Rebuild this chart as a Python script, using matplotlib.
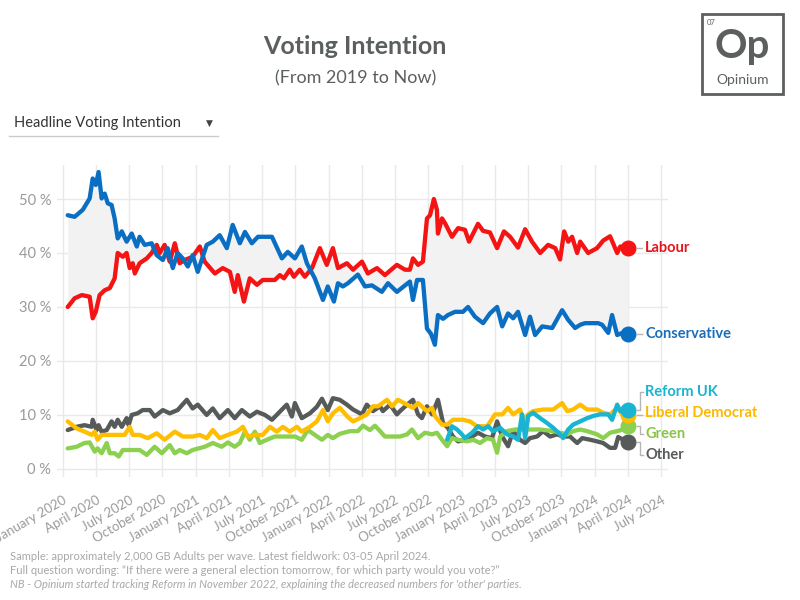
import matplotlib
matplotlib.use("Agg")
import matplotlib.pyplot as plt
import matplotlib.dates as mdates
from matplotlib.lines import Line2D
from matplotlib.patches import Rectangle
from matplotlib.transforms import IdentityTransform
import numpy as np
import pandas as pd

# Poll readings: weeks after 1 Jan 2020 (fieldwork) and vote share in %
lab_weeks = [2.0, 4.7, 7.5, 10.6, 11.8, 13.0, 14.5, 16.5, 18.5, 20.4, 21.6, 23.6, 25.1, 26.3, 27.5,
             28.3, 30.2, 33.0, 34.9, 36.9, 38.1, 40.0, 42.0, 44.0, 45.9, 47.9, 51.0, 53.8, 55.7, 59.7,
             62.8, 65.6, 67.5, 68.7, 71.1, 73.4, 76.2, 78.5, 83.2, 85.2, 86.8, 89.1, 90.7, 93.0, 95.0,
             97.8, 100.9, 103.6, 106.0, 108.0, 111.5, 113.9, 117.4, 119.7, 123.3, 126.4, 131.1, 134.3,
             136.2, 137.4, 139.4, 141.3, 142.9, 144.1, 145.6, 146.8, 147.2, 148.8, 150.0, 152.7, 155.1,
             157.8, 159.4, 162.9, 164.9, 167.6, 170.4, 173.1, 175.5, 178.6, 181.4, 184.1, 187.3, 190.4,
             193.2, 195.1, 196.7, 198.3, 199.8, 201.8, 203.0, 206.1, 209.6, 212.0, 214.7, 217.5, 218.7,
             221.8]
labour = [30, 31.6, 32.2, 31.9, 27.9, 29.1, 32.2, 33.1, 33.5, 35.3, 40, 39.3, 40, 37.2, 38.1,
          36.2, 38.1, 39, 40, 41.5, 40, 41.5, 38.4, 41.8, 38.1, 38.7, 39.3, 41.2, 38.4, 36.2,
          37.2, 36.5, 32.8, 35.9, 31, 35.3, 34.1, 35, 35, 35.9, 35.3, 36.9, 35.6, 36.9, 35.6,
          37.2, 40.9, 37.8, 40.9, 37.2, 38.1, 36.9, 38.4, 36.2, 37.2, 35.9, 37.8, 36.9,
          36.9, 39, 37.8, 38.4, 46.4, 47, 50, 48, 43.6, 46.4, 45.5, 43, 44.6,
          44.3, 42.1, 45.4, 44.1, 43.8, 40.9, 44, 43, 41, 44.4, 42.1, 40, 41.5,
          40.9, 38.8, 44, 42.1, 43, 40, 42.1, 40, 40.9, 42.3, 43.1, 40, 41.2,
          41]

con_weeks = [2.0, 4.7, 7.9, 10.6, 11.8, 13.0, 14.1, 15.3, 16.5, 17.7, 19.2, 20.4, 21.6, 23.2, 25.1,
             27.1, 29.1, 30.2, 32.2, 34.9, 36.9, 39.3, 41.2, 43.2, 45.1, 47.1, 49.1, 51.0, 53.0, 56.5,
             58.9, 61.6, 64.4, 66.7, 69.5, 71.5, 74.2, 76.6, 82.1, 86.0, 88.3, 91.1, 93.8, 95.8, 98.9,
             102.1, 104.0, 106.4, 108.0, 109.9, 111.9, 115.8, 118.6, 121.3, 125.2, 127.6, 131.1, 134.3,
             136.2, 137.4, 139.0, 141.3, 142.9, 144.5, 146.0, 147.2, 149.2, 151.1, 153.9, 157.0, 159.0,
             161.7, 164.9, 167.6, 170.4, 172.4, 174.7, 176.7, 178.6, 181.4, 183.3, 185.3, 188.1, 192.0,
             195.9, 198.3, 201.0, 203.0, 204.9, 210.0, 211.6, 214.0, 215.5, 217.5, 219.5, 221.8]
conservative = [47, 46.7, 48, 50.1, 53.8, 52.6, 55, 50.1, 51, 49.2, 48.9, 46.4, 42.7, 44, 42.1,
                43.6, 41.2, 43, 41.5, 41.8, 39.6, 38.7, 40.9, 37.2, 40, 39, 37.5, 39.6, 36.5, 41.5,
                42.1, 43.3, 40.9, 45.2, 41.8, 43.9, 41.8, 43, 43, 39, 40.2, 39, 41.2, 38.1, 35.3,
                31.3, 33.8, 31, 34.4, 33.8, 34.4, 36, 33.8, 34, 32.8, 34.4, 32.8, 34,
                34.7, 31.3, 35, 35, 26, 25, 23, 28.5, 27.8, 28.5, 29.1, 29.1, 30,
                28.2, 27, 28.8, 30, 26.4, 28.8, 27.9, 29.1, 24.8, 28.2, 24.8, 26.4, 26.1,
                29.4, 27.6, 26.1, 26.7, 27, 27, 26.7, 25.2, 28.5, 24.8, 25.2, 25]

ld_weeks = [2.0, 5.5, 8.6, 11.4, 12.6, 13.7, 15.3, 18.5, 24.3, 26.3, 27.5, 30.2, 33.4, 36.9, 40.0,
            44.0, 47.1, 51.0, 53.8, 56.5, 58.9, 61.6, 64.8, 68.3, 70.7, 72.6, 75.4, 78.5, 81.3, 84.0,
            86.4, 89.1, 91.9, 93.8, 97.0, 99.7, 102.1, 104.0, 106.0, 108.7, 111.9, 113.9, 116.6, 119.3,
            121.7, 123.7, 127.2, 129.2, 131.5, 135.1, 137.4, 139.4, 142.9, 144.9, 146.0, 148.8, 150.8,
            153.1, 157.0, 159.8, 162.5, 166.5, 169.6, 172.4, 174.7, 176.7, 179.4, 180.6, 182.6, 184.5,
            188.4, 192.4, 195.9, 197.9, 200.2, 203.0, 205.7, 209.6, 212.0, 214.7, 217.5, 219.5, 221.8]
lib_dem = [8.8, 7.5, 6.9, 6.3, 6.9, 5.4, 6.3, 6.3, 6.3, 7.8, 6.3, 6.3, 5.7, 6.6, 5.4,
           6.9, 6, 6, 6.3, 5.7, 7.2, 5.7, 6.3, 6.9, 7.8, 6, 6.3, 6.3, 7.8, 6.9,
           7.8, 6.9, 7.8, 6.9, 7.8, 8.8, 10.9, 8.8, 10.3, 11.3, 9.6, 8.8, 9.4, 10.1,
           11.6, 11.6, 12.8, 11.6, 12.8, 11.9, 11.3, 12.2, 10.7, 11.3, 9.8, 8.2, 8.2,
           9.1, 9.1, 8.8, 7.9, 7.9, 10.1, 10.1, 11.3, 10.1, 11, 9.1, 10.1, 10.7,
           11, 11, 12.2, 10.7, 11, 11.9, 11, 11, 10.4, 10.1, 11.3, 10.1, 10]

green_weeks = [2.0, 5.5, 8.6, 10.6, 12.6, 13.7, 15.3, 17.3, 18.5, 20.4, 22.0, 23.6, 26.3, 30.2, 33.0,
               36.1, 38.9, 42.0, 44.0, 45.9, 48.7, 51.0, 55.7, 58.9, 62.4, 64.8, 67.5, 69.5, 71.5, 73.4,
               75.4, 77.3, 80.1, 83.2, 88.3, 91.1, 93.8, 96.2, 98.9, 101.7, 104.0, 106.0, 108.7, 112.7,
               115.8, 117.8, 120.5, 122.5, 124.5, 126.4, 130.3, 132.3, 135.1, 137.0, 139.4, 142.1, 144.9,
               146.8, 148.8, 150.8, 152.7, 155.1, 158.6, 161.0, 163.7, 166.5, 168.8, 170.4, 171.6, 174.3,
               177.5, 182.2, 187.3, 192.4, 195.1, 197.9, 200.2, 203.0, 205.7, 209.6, 212.0, 214.7, 217.5,
               219.9, 221.8]
green = [3.8, 4.1, 4.8, 4.9, 3.2, 3.8, 2.9, 4.8, 2.9, 2.9, 2.3, 3.5, 3.5, 3.5, 2.6,
         4.1, 2.9, 4.4, 2.9, 3.5, 2.9, 3.5, 4.1, 4.8, 4.1, 4.9, 4.1, 4.8, 6.9, 5.4,
         6.9, 4.8, 5.4, 6, 6, 6, 5.4, 7.2, 6.3, 5.4, 6.3, 5.7, 6.5, 7,
         7, 8, 7.2, 8, 7, 6, 6, 6, 6.4, 7.3, 5.7, 6.7, 6.4,
         6.7, 5.4, 4.2, 5.7, 5.4, 5.1, 5.4, 4.8, 5.7, 5.4, 3, 6, 7,
         7.3, 7.3, 7.3, 7, 6.7, 6.4, 7, 7.3, 7, 6.4, 5.7, 6.7, 7,
         7.3, 7.9]

other_weeks = [2.0, 5.5, 8.6, 11.4, 11.8, 13.3, 14.1, 15.3, 17.3, 19.2, 20.4, 21.6, 23.2, 25.1, 25.9,
               27.1, 29.4, 31.4, 34.2, 36.1, 39.3, 42.0, 45.1, 48.7, 51.0, 53.0, 56.5, 58.9, 61.6, 64.8,
               67.5, 70.3, 73.4, 76.2, 79.3, 82.1, 85.2, 87.9, 89.9, 91.1, 93.8, 97.0, 99.7, 101.7, 104.0,
               106.0, 108.7, 111.5, 113.9, 117.4, 119.3, 121.7, 124.5, 125.6, 128.4, 131.1, 132.3, 135.1,
               137.4, 139.4, 140.9, 142.9, 144.9, 147.2, 149.2, 151.1, 153.1, 155.1, 157.8, 160.6, 162.9,
               165.7, 168.4, 170.4, 172.4, 174.7, 176.7, 179.4, 181.4, 183.3, 186.1, 188.4, 191.2, 193.9,
               196.3, 199.0, 201.8, 203.8, 206.9, 209.6, 212.0, 214.7, 216.7, 217.9, 219.9, 221.8]
other = [7.2, 7.8, 8.1, 7.8, 9.1, 7.2, 8.1, 6.9, 7.2, 8.8, 7.8, 9.1, 7.8, 9.4, 8.1,
         10, 10.3, 10.9, 10.9, 9.7, 10.9, 10.3, 10.9, 12.8, 11.2, 11.9, 10, 11.2, 9.4, 10.9,
         9.4, 10.9, 9.7, 10.6, 10, 9.1, 10.6, 11.9, 9.7, 12.2, 9.4, 10.3, 11.5, 13, 10.9,
         13.1, 12.8, 11.9, 11, 10.1, 11.9, 10.7, 11.6, 10.7, 11.9, 10.1, 10.7, 11.9,
         12.8, 10.1, 9.4, 11.6, 10.1, 12.8, 8.5, 7.6, 6, 5.1, 5.4, 6, 6.7,
         6, 5.7, 8.8, 6, 4.2, 7, 5.4, 4.8, 5.7, 6, 7, 6, 6.4,
         6, 6, 4.8, 5.7, 5.4, 5.1, 4.8, 3.9, 3.9, 5.9, 5.4, 5]

ref_weeks = [150.8, 152.7, 154.7, 156.6, 157.8, 160.6, 162.9, 164.9, 166.9, 168.8, 171.6, 174.3, 176.7,
             178.6, 180.2, 181.4, 182.6, 184.5, 187.3, 190.0, 192.4, 195.1, 196.3, 198.3, 200.2, 203.0,
             205.7, 208.1, 210.8, 214.0, 215.5, 217.5, 218.7, 219.9, 221.8]
reform = [5.4, 7.9, 7.3, 6.4, 5.7, 6.7, 7.9, 7.3, 7.9, 7, 7.6, 6.4, 6,
          5.4, 10.1, 5.7, 9.8, 10.4, 9.4, 8.5, 7.6, 6.4, 5.7, 7.3, 8.2, 8.8,
          9.4, 9.8, 10.1, 10.1, 9.1, 11.9, 10.7, 11.3, 11]

start = pd.Timestamp("2020-01-01")


def to_dates(weeks):
    return start + pd.to_timedelta(np.array(weeks) * 7, unit="D")


plt.rcParams["font.family"] = ["Lato", "DejaVu Sans"]

fig = plt.figure(figsize=(8, 6), dpi=100)
ax = fig.add_axes([0.071, 0.205, 0.764, 0.52])

# shaded gap between Labour and Conservative
grid = np.arange(lab_weeks[0], lab_weeks[-1] + 0.01, 0.25)
ax.fill_between(to_dates(grid), np.interp(grid, lab_weeks, labour),
                np.interp(grid, con_weeks, conservative), color="#f2f2f2", lw=0, zorder=1)

series = [
    ("Other", other_weeks, other, "#565b59", "#565b59"),
    ("Green", green_weeks, green, "#8bd04e", "#8bc34a"),
    ("Liberal Democrat", ld_weeks, lib_dem, "#ffbe00", "#fbb900"),
    ("Reform UK", ref_weeks, reform, "#19b4d1", "#19b4d1"),
    ("Labour", lab_weeks, labour, "#f51414", "#e8141b"),
    ("Conservative", con_weeks, conservative, "#0a6fc2", "#1a6fb8"),
]
for i, (name, wk, vals, col, _) in enumerate(series):
    d = to_dates(wk)
    ax.plot(d, vals, color=col, lw=3.1, solid_joinstyle="round", solid_capstyle="round", zorder=3 + i)
    ax.plot(d[-1], vals[-1], "o", ms=10.5, color=col, zorder=10)

ax.set_xlim(pd.Timestamp("2019-12-16"), pd.Timestamp("2024-07-20"))
ax.set_ylim(-1.5, 56.3)
ax.set_yticks([0, 10, 20, 30, 40, 50])
ax.yaxis.set_major_formatter(plt.FuncFormatter(lambda v, p: f"{v:.0f} %"))
ax.set_xticks(pd.date_range("2020-01-01", "2024-07-01", freq="QS"))
ax.xaxis.set_major_formatter(mdates.DateFormatter("%B %Y"))
for lab in ax.get_xticklabels():
    lab.set_rotation(30)
    lab.set_ha("right")
    lab.set_rotation_mode("anchor")
ax.tick_params(axis="x", length=0, pad=12, labelsize=9.5, labelcolor="#9a9a9a")
ax.tick_params(axis="y", length=0, pad=4, labelsize=10.5, labelcolor="#9a9a9a")
ax.grid(True, color="#e9e9e9", lw=1)
ax.set_axisbelow(True)
for s in ax.spines.values():
    s.set_visible(False)

# end labels with connectors
label_pos = {"Labour": 41, "Conservative": 25, "Reform UK": 14.3,
             "Liberal Democrat": 10.4, "Green": 6.5, "Other": 2.6}
fig.canvas.draw()
for name, wk, vals, col, tcol in series:
    xd = mdates.date2num(to_dates(wk)[-1])
    px, py = ax.transData.transform((xd, vals[-1]))
    _, ly = ax.transData.transform((xd, label_pos[name]))
    if abs(ly - py) < 4:
        xs, ys = [px + 9, px + 14], [py, py]
    else:
        xs, ys = [px + 9, px + 12, px + 12, px + 15], [py, py, ly, ly]
    fig.add_artist(Line2D(xs, ys, transform=IdentityTransform(), color="#b5b5b5", lw=1))
    ax.text(xd, label_pos[name], "", color=tcol)
    fig.text((px + 17) / 800, ly / 600, name, color=tcol, fontsize=10.5,
             fontweight="bold", va="center", ha="left")

# header
fig.text(0.444, 0.922, "Voting Intention", ha="center", va="center", fontsize=18,
         fontweight="bold", color="#5b605e")
fig.text(0.444, 0.870, "(From 2019 to Now)", ha="center", va="center", fontsize=13,
         color="#5b605e")
fig.text(0.018, 0.795, "Headline Voting Intention", ha="left", va="center", fontsize=10.5,
         color="#333333")
fig.text(0.262, 0.795, "\u25BC", ha="center", va="center", fontsize=6.5, color="#444444")
fig.add_artist(Line2D([0.011, 0.273], [0.773, 0.773], color="#cccccc", lw=1))

# logo
fig.add_artist(Rectangle((0.8775, 0.843), 0.101, 0.134, fill=False, ec="#5b605e", lw=2))
fig.text(0.884, 0.963, "07", fontsize=5.5, color="#5b605e", va="center")
fig.text(0.928, 0.922, "Op", fontsize=29, fontweight="bold", color="#5b605e",
         ha="center", va="center")
fig.text(0.928, 0.867, "Opinium", fontsize=10, color="#5b605e", ha="center", va="center")

# footnotes
fig.text(0.0125, 0.072, "Sample: approximately 2,000 GB Adults per wave. Latest fieldwork: 03-05 April 2024.",
         fontsize=8, color="#a8a8a8", va="center")
fig.text(0.0125, 0.049, "Full question wording: \u201cIf there were a general election tomorrow, "
         "for which party would you vote?\u201d", fontsize=8, color="#a8a8a8", va="center")
fig.text(0.0125, 0.026, "NB - Opinium started tracking Reform in November 2022, explaining the "
         "decreased numbers for 'other' parties.", fontsize=8, color="#a8a8a8", va="center",
         style="italic")

fig.savefig("out.png", dpi=100)
